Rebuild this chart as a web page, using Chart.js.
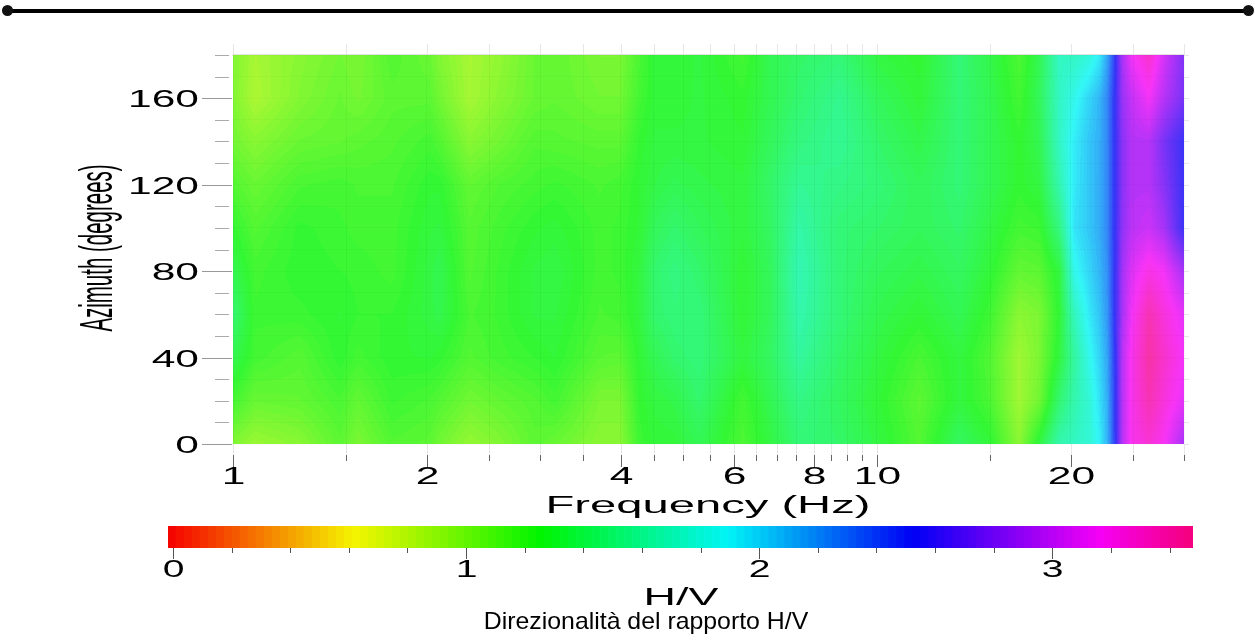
<!DOCTYPE html>
<html lang="en">
<head>
  <meta charset="UTF-8">
  <title>Direzionalità del rapporto H/V</title>
  <script src="https://cdn.jsdelivr.net/npm/chart.js"></script>
  <style>
    html, body { margin: 0; padding: 0; background: #fff; overflow: hidden; }
    canvas { position: absolute; left: 0; top: 0; }
    #rule { position: absolute; left: 6px; top: 9px; width: 1243px; height: 4px; background: #000; }
    .dot { position: absolute; top: 5px; width: 11px; height: 11px; border-radius: 50%; background: #111; }
  </style>
</head>
<body>
  <canvas id="mapChart" width="1255" height="642"></canvas>
  <canvas id="barChart" width="1255" height="642"></canvas>
  <div id="rule"></div>
  <div class="dot" style="left:2px"></div>
  <div class="dot" style="left:1243px"></div>

  <script>
    const frequencies = [1, 1.082, 1.27, 1.466, 1.563, 1.765, 2.022, 2.095, 2.332, 2.596, 2.942, 3.16, 3.711, 3.986,
      4.28, 4.516, 4.85, 5.3, 6.19, 6.81, 7.58, 8.75, 10.09, 11.64, 13.43, 14.95, 16.64, 17.87, 19.2, 20.25,
      21.37, 22.15, 22.79, 23.45, 24.05, 24.92, 26.48, 27.94, 30];
    const azimuths = [0, 20, 40, 60, 80, 100, 120, 140, 160, 180];

    // H/V: one row per frequency, one value per azimuth
    const hvValues = [
      [1.00, 1.20, 1.35, 1.45, 1.35, 1.25, 1.15, 1.05, 1.00, 1.00],
      [0.92, 1.08, 1.20, 1.22, 1.20, 1.15, 1.08, 0.98, 0.86, 0.88],
      [0.98, 1.10, 1.14, 1.23, 1.26, 1.25, 1.18, 1.08, 1.00, 0.98],
      [1.12, 1.18, 1.26, 1.27, 1.24, 1.22, 1.20, 1.10, 1.08, 1.05],
      [1.02, 1.10, 1.20, 1.24, 1.23, 1.20, 1.18, 1.12, 1.04, 1.02],
      [1.15, 1.22, 1.26, 1.24, 1.20, 1.20, 1.18, 1.15, 1.12, 1.15],
      [1.12, 1.18, 1.27, 1.31, 1.31, 1.29, 1.26, 1.20, 1.12, 1.08],
      [1.05, 1.15, 1.25, 1.34, 1.35, 1.30, 1.26, 1.15, 1.05, 1.00],
      [0.94, 1.05, 1.15, 1.18, 1.15, 1.14, 1.10, 0.98, 0.88, 0.88],
      [1.00, 1.10, 1.20, 1.22, 1.22, 1.20, 1.16, 1.05, 0.98, 0.95],
      [1.12, 1.15, 1.24, 1.30, 1.30, 1.26, 1.20, 1.15, 1.08, 1.08],
      [1.08, 1.20, 1.27, 1.30, 1.32, 1.28, 1.22, 1.14, 1.10, 1.10],
      [0.97, 1.02, 1.13, 1.18, 1.20, 1.20, 1.18, 1.12, 1.05, 1.02],
      [0.97, 1.02, 1.12, 1.20, 1.22, 1.22, 1.20, 1.12, 1.05, 1.02],
      [1.22, 1.25, 1.27, 1.30, 1.30, 1.27, 1.27, 1.25, 1.20, 1.18],
      [1.28, 1.30, 1.36, 1.44, 1.44, 1.38, 1.32, 1.30, 1.28, 1.28],
      [1.28, 1.33, 1.44, 1.48, 1.50, 1.44, 1.36, 1.30, 1.28, 1.27],
      [1.36, 1.44, 1.48, 1.48, 1.44, 1.38, 1.33, 1.30, 1.30, 1.30],
      [1.17, 1.20, 1.30, 1.27, 1.27, 1.30, 1.30, 1.27, 1.25, 1.20],
      [1.30, 1.35, 1.40, 1.38, 1.38, 1.40, 1.42, 1.38, 1.35, 1.35],
      [1.47, 1.52, 1.60, 1.65, 1.67, 1.63, 1.57, 1.50, 1.45, 1.42],
      [1.43, 1.40, 1.43, 1.47, 1.47, 1.47, 1.52, 1.57, 1.55, 1.47],
      [1.30, 1.27, 1.30, 1.34, 1.38, 1.43, 1.47, 1.43, 1.38, 1.30],
      [1.15, 1.12, 1.18, 1.27, 1.33, 1.38, 1.38, 1.33, 1.28, 1.25],
      [1.40, 1.30, 1.30, 1.36, 1.40, 1.44, 1.47, 1.47, 1.47, 1.47],
      [1.28, 1.18, 1.16, 1.22, 1.28, 1.32, 1.36, 1.36, 1.36, 1.33],
      [0.97, 0.90, 0.90, 0.97, 1.10, 1.20, 1.25, 1.25, 1.20, 1.17],
      [1.30, 1.05, 1.02, 1.02, 1.12, 1.22, 1.30, 1.35, 1.38, 1.35],
      [1.65, 1.45, 1.30, 1.27, 1.30, 1.50, 1.65, 1.72, 1.72, 1.72],
      [1.72, 1.65, 1.60, 1.70, 1.85, 1.95, 1.93, 1.92, 1.85, 1.72],
      [1.78, 1.78, 1.85, 1.93, 2.00, 2.05, 2.05, 2.05, 2.00, 1.80],
      [1.90, 1.95, 2.00, 2.05, 2.10, 2.13, 2.13, 2.12, 2.10, 1.92],
      [2.10, 2.12, 2.15, 2.20, 2.22, 2.25, 2.25, 2.25, 2.25, 2.15],
      [2.50, 2.50, 2.52, 2.54, 2.54, 2.54, 2.54, 2.54, 2.54, 2.50],
      [2.95, 2.95, 2.95, 2.90, 2.88, 2.82, 2.80, 2.80, 2.85, 2.90],
      [3.20, 3.20, 3.20, 3.15, 3.08, 2.97, 2.95, 2.95, 3.00, 3.15],
      [3.27, 3.38, 3.42, 3.38, 3.22, 3.02, 2.95, 2.95, 3.15, 3.30],
      [3.17, 3.25, 3.30, 3.25, 3.15, 2.90, 2.80, 2.75, 2.95, 3.05],
      [2.90, 3.10, 3.15, 3.10, 2.90, 2.55, 2.55, 2.55, 2.75, 2.78]
    ];

    const freqTicks = [1, 1.5, 2, 2.5, 3, 3.5, 4, 4.5, 5, 5.5, 6, 6.5, 7, 7.5, 8, 8.5, 9, 9.5, 10, 15, 20, 25, 30];
    const freqLabels = [1, 2, 4, 6, 8, 10, 20];
    const azimuthTicks = [0, 10, 20, 30, 40, 50, 60, 70, 80, 90, 100, 110, 120, 130, 140, 150, 160, 170, 180];
    const azimuthLabels = [0, 40, 80, 120, 160];
    const hvTicks = [0, 0.2, 0.4, 0.6, 0.8, 1, 1.2, 1.4, 1.6, 1.8, 2, 2.2, 2.4, 2.6, 2.8, 3, 3.2, 3.4];
    const hvLabels = [0, 1, 2, 3];

    const hvMin = -0.017, hvMax = 3.48, levelCount = 128;
    const rampColors = [[245, 0, 0], [245, 245, 0], [0, 245, 0], [0, 245, 245], [0, 0, 245], [245, 0, 245], [245, 0, 0]];
    const rampSpan = 5.5; // ramp stops at hue 330, half way into the last stop pair
    const mapFade = 0.8;

    // stepped rainbow, same 128 levels for the bar and the map
    function rampColor(v) {
      let t = Math.max(0, Math.min(0.9999, (v - hvMin) / (hvMax - hvMin)));
      t = (Math.floor(t * levelCount) + 0.5) / levelCount;
      const p = t * rampSpan, i = Math.floor(p), f = p - i;
      return rampColors[i].map((c, k) => c + (rampColors[i + 1][k] - c) * f);
    }

    function wideText(ctx, text, x, y, size, sx, align, rotate) {
      ctx.save();
      ctx.translate(x, y);
      if (rotate) ctx.rotate(rotate);
      ctx.scale(sx, 1);
      ctx.font = size + 'px "Liberation Sans"';
      ctx.fillStyle = '#000';
      ctx.textAlign = align || 'center';
      ctx.textBaseline = 'middle';
      ctx.fillText(text, 0, 0);
      ctx.restore();
    }

    function lowerIndex(list, v) {
      let i = 0;
      while (i < list.length - 2 && list[i + 1] <= v) i++;
      return i;
    }

    const surfacePlugin = {
      id: 'surface',
      beforeDatasetsDraw(chart) {
        const { ctx, chartArea: a, scales: { x, y } } = chart;
        const w = Math.round(a.right - a.left), h = Math.round(a.bottom - a.top);
        const img = ctx.createImageData(w, h);
        const logF = frequencies.map(Math.log);
        for (let py = 0; py < h; py++) {
          const az = y.getValueForPixel(a.top + py + 0.5);
          const j = lowerIndex(azimuths, az);
          const ty = (az - azimuths[j]) / (azimuths[j + 1] - azimuths[j]);
          for (let px = 0; px < w; px++) {
            const lf = Math.log(x.getValueForPixel(a.left + px + 0.5));
            const i = lowerIndex(logF, lf);
            const tx = (lf - logF[i]) / (logF[i + 1] - logF[i]);
            const v0 = hvValues[i][j] + (hvValues[i + 1][j] - hvValues[i][j]) * tx;
            const v1 = hvValues[i][j + 1] + (hvValues[i + 1][j + 1] - hvValues[i][j + 1]) * tx;
            const c = rampColor(v0 + (v1 - v0) * ty);
            const o = (py * w + px) * 4;
            img.data[o] = c[0] * mapFade + 255 * (1 - mapFade);
            img.data[o + 1] = c[1] * mapFade + 255 * (1 - mapFade);
            img.data[o + 2] = c[2] * mapFade + 255 * (1 - mapFade);
            img.data[o + 3] = 255;
          }
        }
        ctx.putImageData(img, Math.round(a.left), Math.round(a.top));
      }
    };

    const mapMarksPlugin = {
      id: 'mapMarks',
      afterDraw(chart) {
        const { ctx, chartArea: a, scales: { x, y } } = chart;
        ctx.save();
        ctx.lineWidth = 1;
        x.ticks.forEach(t => {
          const p = Math.round(x.getPixelForValue(t.value)) + 0.5;
          const major = freqLabels.includes(t.value);
          ctx.strokeStyle = '#e6e6e6';
          ctx.beginPath(); ctx.moveTo(p, a.top - 11); ctx.lineTo(p, a.top); ctx.moveTo(p, a.bottom); ctx.lineTo(p, a.bottom + 11); ctx.stroke();
          ctx.strokeStyle = '#666';
          ctx.beginPath(); ctx.moveTo(p, a.bottom + 11); ctx.lineTo(p, a.bottom + (major ? 23 : 17)); ctx.stroke();
          if (major) wideText(ctx, t.label, p, 478, 23, 1.85);
        });
        y.ticks.forEach(t => {
          const p = Math.round(y.getPixelForValue(t.value)) + 0.5;
          const major = azimuthLabels.includes(t.value);
          ctx.strokeStyle = '#e6e6e6';
          ctx.beginPath(); ctx.moveTo(a.right, p); ctx.lineTo(a.right + 5, p); ctx.stroke();
          ctx.strokeStyle = major ? '#999' : '#aaa';
          ctx.beginPath(); ctx.moveTo(major ? 202 : 215, p); ctx.lineTo(major ? 232 : 229, p); ctx.stroke();
          if (major) wideText(ctx, t.label, 199, p + 2, 23, 1.85, 'right');
        });
        ctx.strokeStyle = '#e2e2e2';
        ctx.beginPath(); ctx.moveTo(a.left, a.top - 0.5); ctx.lineTo(a.right, a.top - 0.5); ctx.stroke();
        ctx.restore();
        wideText(ctx, 'Frequency (Hz)', 708, 507, 23, 2.05);
        wideText(ctx, 'Azimuth (degrees)', 99.5, 248, 46, 0.445, 'center', -Math.PI / 2);
      }
    };

    const barMarksPlugin = {
      id: 'barMarks',
      afterDraw(chart) {
        const { ctx, chartArea: a, scales: { x } } = chart;
        ctx.save();
        ctx.lineWidth = 1;
        x.ticks.forEach(t => {
          const p = Math.round(x.getPixelForValue(t.value)) + 0.5;
          const major = hvLabels.includes(t.value);
          ctx.strokeStyle = '#555';
          ctx.beginPath(); ctx.moveTo(p, a.bottom); ctx.lineTo(p, a.bottom + (major ? 11 : 5)); ctx.stroke();
          if (major) wideText(ctx, t.label, p, 571, 23, 1.7);
        });
        ctx.restore();
        wideText(ctx, 'H/V', 681, 599, 23, 1.95);
        wideText(ctx, 'Direzionalità del rapporto H/V', 646, 622, 24, 1.035);
      }
    };

    const sharedScale = { border: { display: false } };

    new Chart(document.getElementById('mapChart'), {
      type: 'scatter',
      data: {
        datasets: [{
          label: 'H/V',
          data: frequencies.flatMap((f, i) => azimuths.map((az, j) => ({ x: f, y: az, v: hvValues[i][j] }))),
          pointRadius: 0
        }]
      },
      plugins: [surfacePlugin, mapMarksPlugin],
      options: {
        responsive: false,
        animation: false,
        events: [],
        layout: { padding: { left: 233, right: 71, top: 55, bottom: 198 } },
        plugins: { legend: { display: false }, tooltip: { enabled: false } },
        scales: {
          x: {
            ...sharedScale,
            type: 'logarithmic', min: 1, max: 30,
            grid: { z: 1, color: 'rgba(0,0,0,0.035)', drawTicks: false },
            ticks: { display: false, autoSkip: false, callback: v => v },
            afterBuildTicks: s => { s.ticks = freqTicks.map(value => ({ value })); }
          },
          y: {
            ...sharedScale,
            min: 0, max: 180,
            grid: { z: 1, color: 'rgba(0,0,0,0.02)', drawTicks: false },
            ticks: { display: false, autoSkip: false, callback: v => v },
            afterBuildTicks: s => { s.ticks = azimuthTicks.map(value => ({ value })); }
          }
        }
      }
    });

    // colour bar: one thin bar per level of the ramp
    const barLevels = [];
    for (let k = 0; k < levelCount; k++) barLevels.push(hvMin + (k + 0.5) * (hvMax - hvMin) / levelCount);

    new Chart(document.getElementById('barChart'), {
      type: 'bar',
      data: {
        datasets: [{
          label: 'H/V',
          data: barLevels.map(v => ({ x: v, y: 1 })),
          backgroundColor: ctx => { const c = rampColor(barLevels[ctx.dataIndex]); return `rgb(${c[0]},${c[1]},${c[2]})`; },
          barPercentage: 1,
          categoryPercentage: 1,
          borderWidth: 0
        }]
      },
      plugins: [barMarksPlugin],
      options: {
        responsive: false,
        animation: false,
        events: [],
        layout: { padding: { left: 168, right: 62, top: 526, bottom: 94 } },
        plugins: { legend: { display: false }, tooltip: { enabled: false } },
        scales: {
          x: {
            ...sharedScale,
            type: 'linear', min: hvMin, max: hvMax, offset: false,
            grid: { display: false, drawTicks: false },
            ticks: { display: false, autoSkip: false, callback: v => v },
            afterBuildTicks: s => { s.ticks = hvTicks.map(value => ({ value })); }
          },
          y: { ...sharedScale, display: false, min: 0, max: 1 }
        }
      }
    });
  </script>
</body>
</html>
